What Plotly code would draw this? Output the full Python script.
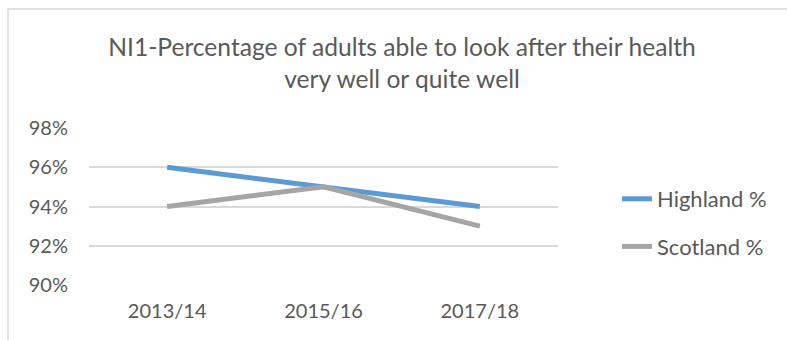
import plotly.graph_objects as go

# Survey years and indicator values (percent)
years = ["2013/14", "2015/16", "2017/18"]
highland_pct = [96, 95, 94]
scotland_pct = [94, 95, 93]
y_ticks = [90, 92, 94, 96, 98]

W, H = 787, 340
L, R, T, B = 89, 229, 128, 55
FONT = "Lato"
GREY_TEXT = "#595959"

fig = go.Figure()
fig.add_trace(go.Scatter(x=years, y=highland_pct, mode="lines", name="Highland %",
                         legendgroup="h",
                         line=dict(color="#5b9bd5", width=5)))
fig.add_trace(go.Scatter(x=years, y=scotland_pct, mode="lines", name="Scotland %",
                         legendgroup="s",
                         line=dict(color="#a5a5a5", width=5)))

pw = W - L - R
ph = H - T - B
def px_x(v):
    return (v - L) / pw
def px_y(v):
    return (H - B - v) / ph

fig.update_layout(
    width=W, height=H,
    margin=dict(l=L, r=R, t=T, b=B, pad=0),
    paper_bgcolor="white", plot_bgcolor="white",
    font=dict(family=FONT, color=GREY_TEXT, size=20),
    title=dict(text="NI1-Percentage of adults able to look after their health<br>very well or quite well",
               x=px_x(402), xref="paper", xanchor="center",
               y=1 - 56 / H, yref="container", yanchor="middle",
               font=dict(family=FONT, size=24.6, color=GREY_TEXT)),
    xaxis=dict(type="category", range=[-0.5, 2.5],
               showgrid=False, zeroline=False, showline=False,
               ticks="outside", ticklen=8, tickcolor="rgba(0,0,0,0)",
               tickfont=dict(family=FONT, size=20, color=GREY_TEXT)),
    yaxis=dict(range=[90, 98], tickvals=y_ticks,
               ticktext=[f"{v}%" for v in y_ticks],
               showgrid=True, gridcolor="#d9d9d9", gridwidth=1.5,
               zeroline=False, showline=False,
               ticks="outside", ticklen=16, tickcolor="rgba(0,0,0,0)",
               tickfont=dict(family=FONT, size=20, color=GREY_TEXT)),
    legend=dict(x=px_x(617), xanchor="left", y=px_y(178), yanchor="top",
                font=dict(family=FONT, size=22, color=GREY_TEXT),
                traceorder="grouped", tracegroupgap=16,
                bgcolor="rgba(0,0,0,0)"),
    showlegend=True,
    shapes=[dict(type="rect", xref="paper", yref="paper",
                 x0=px_x(8), x1=px_x(800), y0=px_y(350), y1=px_y(9),
                 line=dict(color="#d9d9d9", width=1.5), fillcolor="rgba(0,0,0,0)",
                 layer="below")],
)

fig.write_html("out.html")
